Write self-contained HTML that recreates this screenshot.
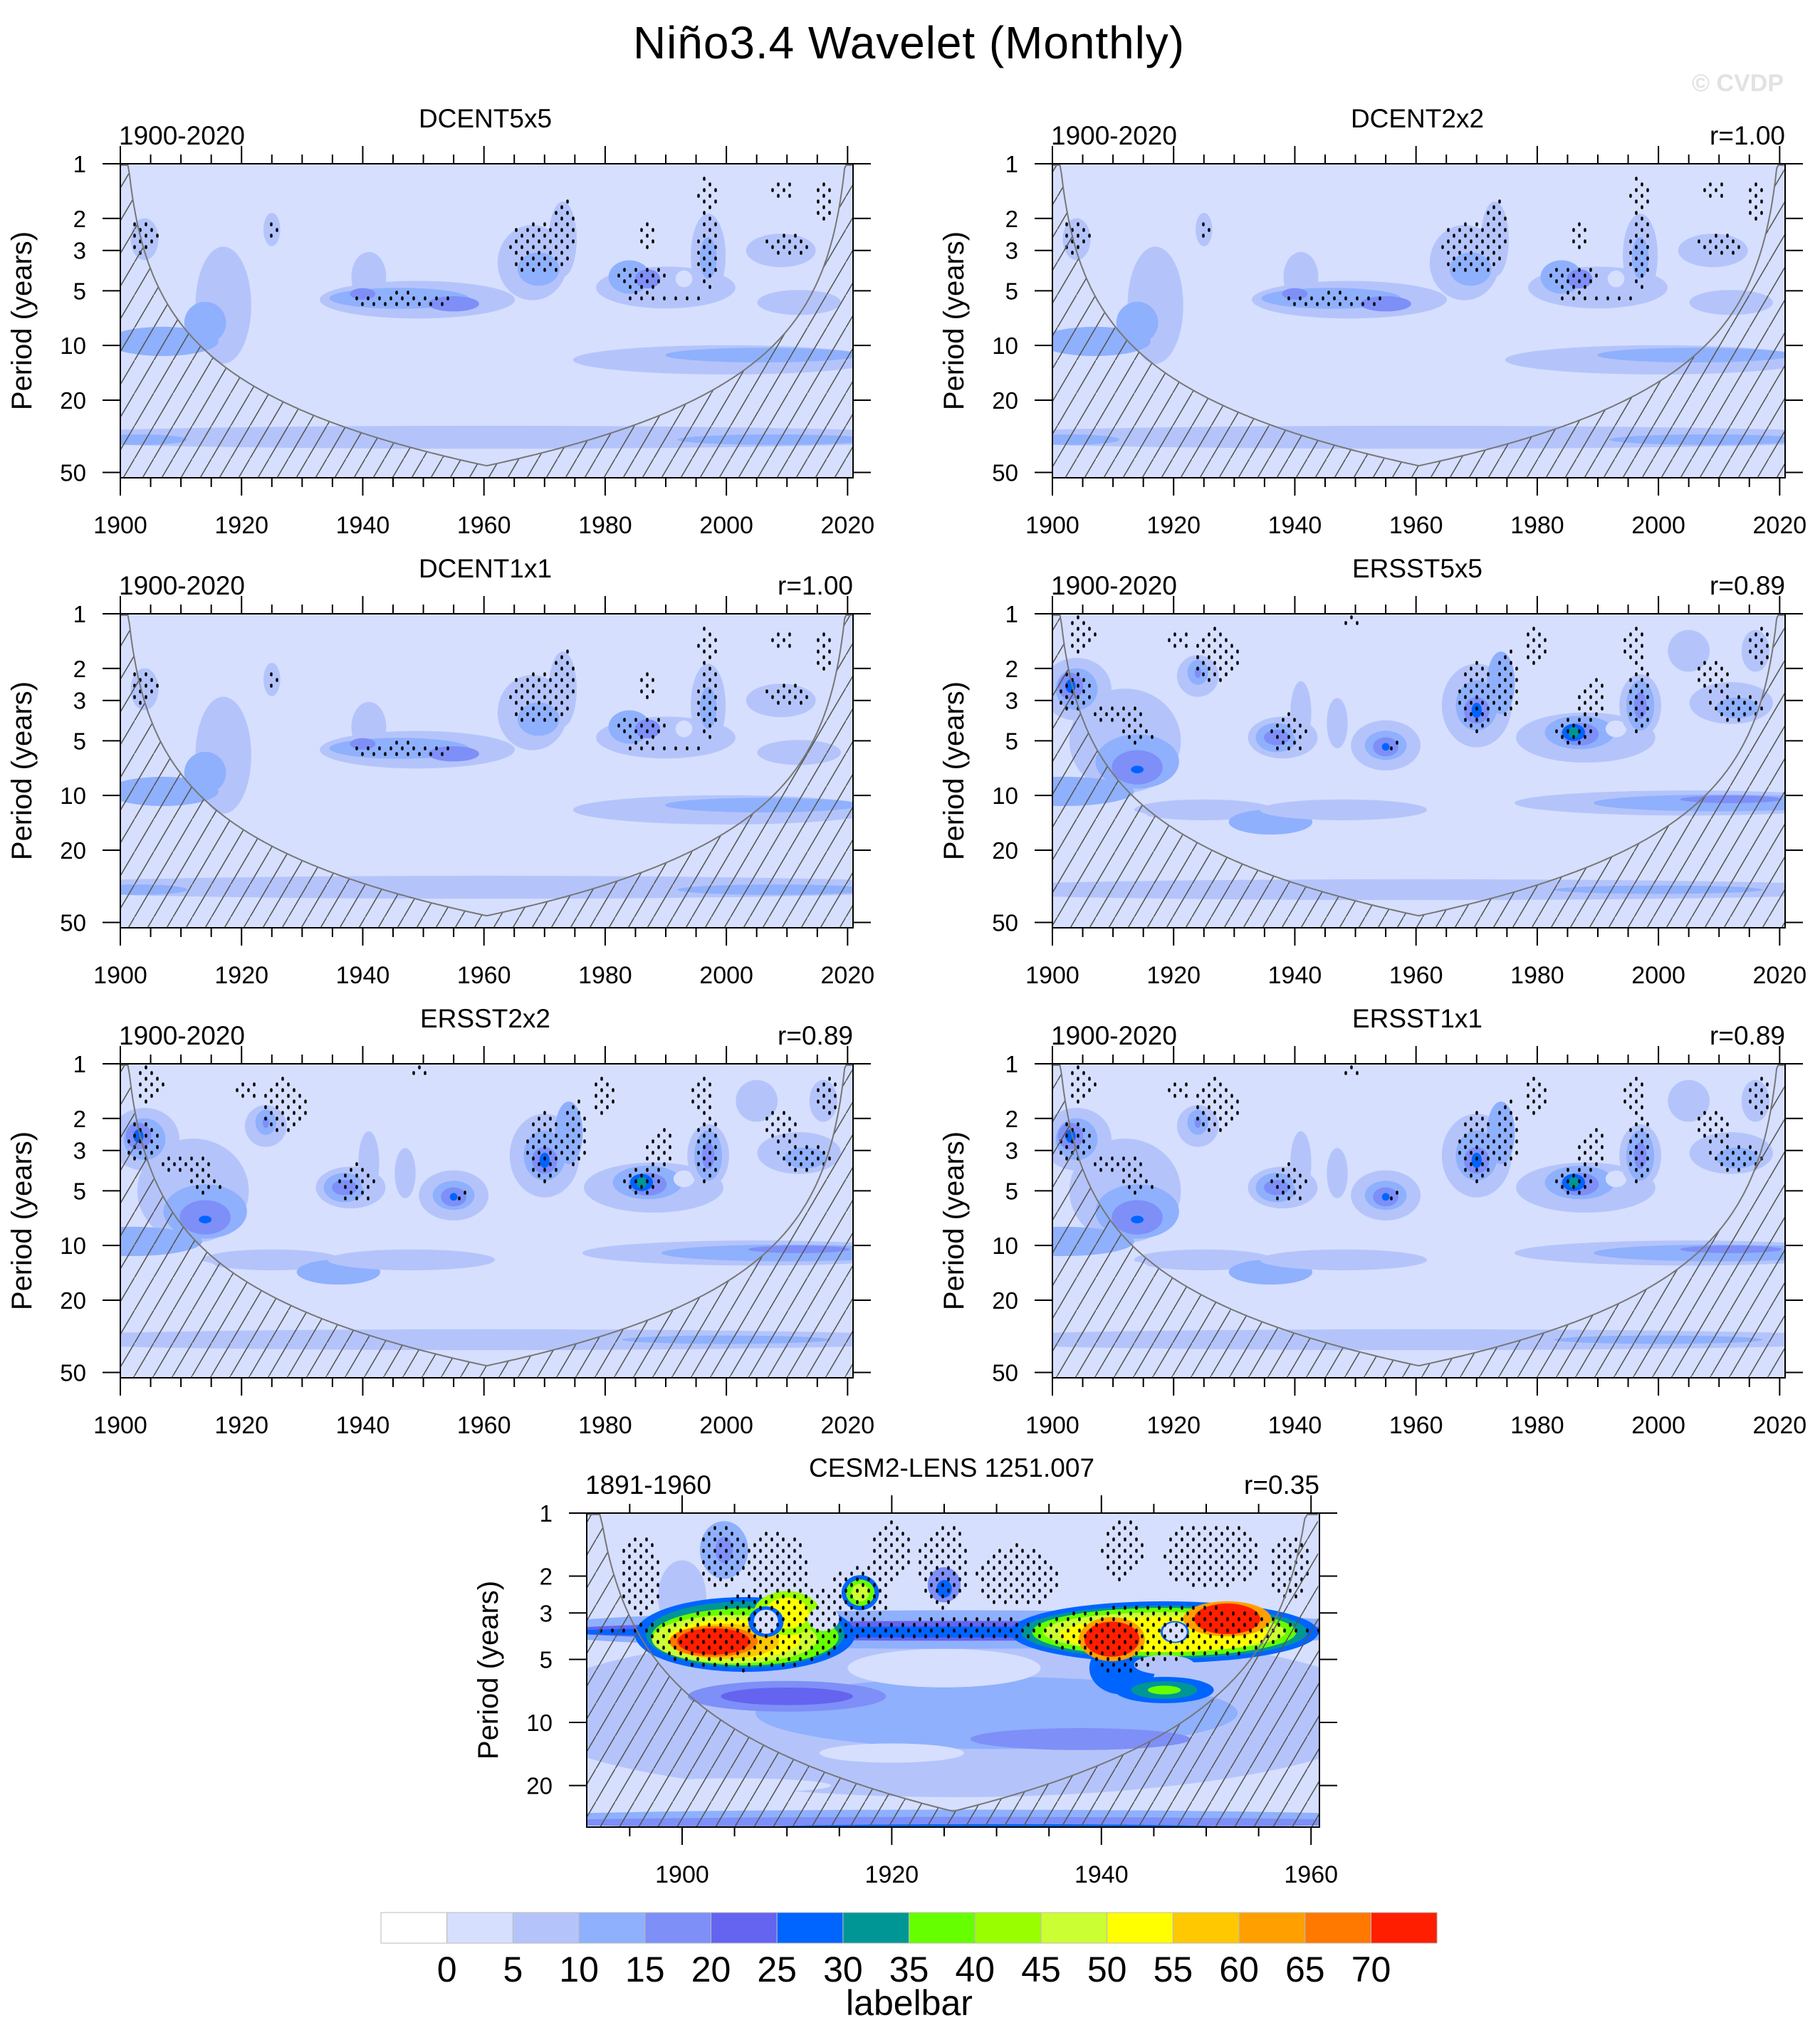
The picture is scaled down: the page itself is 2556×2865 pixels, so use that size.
<!DOCTYPE html>
<html><head><meta charset="utf-8"><style>
html,body{margin:0;padding:0;background:#fff;}
svg{display:block;font-family:"Liberation Sans",sans-serif;}
</style></head><body>
<svg id="root" width="2556" height="2865" viewBox="0 0 2556 2865" xmlns="http://www.w3.org/2000/svg">
<defs>
<pattern id="hatch" patternUnits="userSpaceOnUse" width="27" height="46">
<line x1="-27" y1="92" x2="27" y2="0" stroke="#555" stroke-width="1.4"/>
<line x1="0" y1="46" x2="27" y2="0" stroke="#555" stroke-width="1.4"/>
<line x1="27" y1="46" x2="54" y2="0" stroke="#555" stroke-width="1.4"/>
</pattern>
</defs>
<text x="1276" y="82" text-anchor="middle" font-size="64" textLength="774">Niño3.4 Wavelet (Monthly)</text>
<text x="2505" y="128" text-anchor="end" font-size="34" font-weight="bold" fill="#e2e2e2">© CVDP</text>
</svg>
<script>
const COLORS=["#ffffff","#d6dffe","#b4c4fb","#8fb0fd","#7e8ff8","#6464f0","#0064ff","#009696","#66ff00","#99ff00","#ccff33","#ffff00","#ffc800","#ffa000","#ff7800","#ff1e00"];
const CBAR_LABELS=["0","5","10","15","20","25","30","35","40","45","50","55","60","65","70"];
const PERIOD_TICKS=[1,2,3,5,10,20,50];
// blobs: [year, period, halfYears, halfDecades, level]
const DCENT_BLOBS=[
[1917,6,4,0.28,2],[1907,9.5,8,0.07,3],[1914,7.5,3,0.1,3],
[1904,2.6,2,0.1,2],[1925,2.3,1.2,0.08,2],
[1949,5.6,14,0.09,2],[1941,4.2,2.5,0.12,2],[1946,5.5,10,0.05,3],[1955,5.9,4,0.04,4],[1940,5.2,2,0.03,4],
[1968,3.5,5,0.18,2],[1973,2.6,2,0.18,2],[1969,3.8,3,0.08,3],
[1990,4.8,10,0.1,2],[1984,4.2,3,0.08,3],[1987,4.3,2,0.05,4],[1997,3.2,2.5,0.2,2],[1997,3.3,1.2,0.1,3],[1993,4.3,1.2,0.04,1],
[2009,3,5,0.08,2],[2012,5.8,6,0.06,2],
[2000,12,22,0.07,2],[2006,11.3,14,0.035,3],
[1960,32,70,0.055,2],[1903,33,7,0.025,3],[2008,33,14,0.025,3]];
const DCENT_STIP=[[1904,2.5,2.5,0.1],[1925,2.2,1,0.06],[1947,5.6,9,0.04],[1969,2.9,5,0.15],[1973,2.4,2,0.2],[1986,4.3,4,0.08],[1997,3,1.8,0.22],[1997,1.5,2,0.1],[1987,2.5,1.5,0.08],[2010,2.8,4,0.06],[2009,1.4,2,0.06],[2016,1.6,1.5,0.12],[1990,5.5,6,0.012]];
const ERSST_BLOBS=[
[1912,5,8,0.25,2],[1902,9.5,10,0.07,3],[1914,6.5,6,0.13,3],[1914,7,4,0.09,4],[1914,7.2,1,0.02,6],
[1904,2.6,5,0.15,2],[1904,2.6,3,0.1,3],[1903,2.5,2,0.07,4],[1903,2.5,0.8,0.035,6],
[1924,2.2,3,0.1,2],[1924,2.1,1.5,0.06,3],[1924,2.1,0.5,0.03,4],
[1938,4.8,5,0.1,2],[1937,4.8,3,0.07,3],[1937,4.8,2,0.04,4],[1941,3.5,1.5,0.15,2],
[1955,5.3,5,0.12,2],[1955,5.3,3,0.07,3],[1955,5.4,2,0.05,4],[1955,5.4,0.6,0.02,6],[1947,4,1.5,0.12,2],
[1970,3.2,5,0.2,2],[1970,3.2,3,0.12,3],[1970,3.4,2,0.07,4],[1970,3.4,0.8,0.04,6],[1974,2.4,2,0.15,3],
[1988,4.8,10,0.12,2],[1987,4.5,5,0.08,3],[1987,4.6,3,0.06,4],[1986,4.5,1.8,0.045,6],[1986,4.5,0.8,0.03,7],[1993,4.3,1.5,0.04,1],
[1997,3.2,3,0.15,2],[1997,3.2,2,0.12,3],[1997,3.2,1,0.07,4],
[2012,3.1,6,0.1,2],[2013,3.3,3,0.05,3],[2005,1.6,3,0.1,2],[2016,1.6,2,0.1,2],
[1925,12,10,0.05,2],[1936,14,6,0.06,3],[1948,12,12,0.05,2],
[2005,11,25,0.06,2],[2010,11,18,0.04,3],[2012,10.5,8,0.02,4],
[1960,33,70,0.05,2],[2000,33,15,0.02,3],[1910,13,5,0.03,1]];
const ERSST_STIP=[[1904,2.7,3,0.12],[1911,3.6,5,0.05],[1914,4.5,3,0.06],[1905,1.3,2.5,0.1],[1927,1.7,4,0.15],[1921,1.4,2,0.06],[1939,4.5,3,0.12],[1956,5.3,1,0.03],[1970,2.9,3,0.2],[1975,2.4,2,0.2],[1986,4.4,3,0.08],[1989,3,2.5,0.12],[1997,3,2,0.2],[1996,1.5,2,0.1],[2013,3.3,5,0.07],[2009,2.2,3,0.1],[2017,1.5,2,0.1],[1980,1.5,2,0.1],[1949,1.1,2,0.03]];
const CESM_BLOBS=[
[1926,9,36,0.35,2],[1930,9,20,0.15,3],[1910,7.5,9,0.07,4],[1910,7.5,6,0.04,5],[1938,12,10,0.05,4],
[1926,29,40,0.04,3],[1926,30,40,0.025,4],[1930,31.5,20,0.012,6],[1925,5.5,8,0.08,1],[1920,14,6,0.04,1],[1905,20,8,0.03,1],
[1904,1.5,2,0.12,3],[1904,1.5,0.8,0.06,4],[1925,2.2,1.5,0.08,4],[1925,2.3,0.7,0.04,6],[1900,2.5,2,0.15,2],
[1926,3.6,36,0.08,3],[1926,3.65,36,0.045,5],[1926,3.7,36,0.025,6],
[1906,3.8,10,0.17,6],[1906,3.8,9,0.15,7],[1906,3.9,8.5,0.13,8],[1905,4,7.5,0.11,10],[1905,4,6,0.09,11],[1904,4.1,5,0.08,12],[1903,4.1,4,0.07,14],[1903,4.1,3.3,0.06,15],
[1910,3,3,0.1,9],[1910,3,2,0.07,11],[1908,3.3,1.6,0.07,6],[1908,3.3,1,0.05,1],[1913.5,3.2,1.3,0.05,1],
[1917,2.4,1.7,0.08,6],[1917,2.4,1.3,0.06,8],[1917,2.4,0.8,0.04,10],
[1942,5.5,3,0.12,6],[1946,7,4.5,0.06,6],[1946,7,3,0.04,7],[1946,7,1.5,0.02,8],
[1946,3.7,14,0.14,6],[1946,3.7,13,0.12,7],[1946,3.7,12,0.11,8],[1946,3.7,11,0.09,10],[1946,3.8,9.5,0.08,11],
[1941,4,3,0.1,13],[1941,4,2.5,0.08,15],[1952,3.2,4,0.08,13],[1952,3.2,3,0.07,15],
[1947,3.7,1.3,0.05,6],[1947,3.7,1,0.04,1],[1946,5.3,2.5,0.04,2]];
const CESM_STIP=[[1927,3.6,35,0.05],[1906,4,9,0.15],[1910,3,6,0.15],[1917,2.5,3,0.15],[1946,3.7,12,0.13],[1904,1.6,2.5,0.15],[1909,1.8,3,0.17],[1896,2,2,0.2],[1920,1.5,2,0.15],[1925,1.8,2.5,0.2],[1932,2,4,0.15],[1942,1.5,2,0.15],[1949,1.6,3,0.15],[1952,1.6,3,0.15],[1958,1.8,2,0.15],[1942,4.8,3,0.08]];

const NS="http://www.w3.org/2000/svg";
const root=document.getElementById('root');
function mk(tag,attrs,parent){const e=document.createElementNS(NS,tag);for(const k in attrs)e.setAttribute(k,attrs[k]);(parent||root).appendChild(e);return e;}

const YRS=[1900,1920,1940,1960,1980,2000,2020];
const panels=[
{name:"dcent5x5",title:"DCENT5x5",range:"1900-2020",r:"",x0:169,y0:230,t0:1900,t1:2020.9,pmax:53.5,xt:YRS,yt:PERIOD_TICKS,blobs:DCENT_BLOBS,stip:DCENT_STIP},
{name:"dcent2x2",title:"DCENT2x2",range:"1900-2020",r:"r=1.00",x0:1478,y0:230,t0:1900,t1:2020.9,pmax:53.5,xt:YRS,yt:PERIOD_TICKS,blobs:DCENT_BLOBS,stip:DCENT_STIP},
{name:"dcent1x1",title:"DCENT1x1",range:"1900-2020",r:"r=1.00",x0:169,y0:862,t0:1900,t1:2020.9,pmax:53.5,xt:YRS,yt:PERIOD_TICKS,blobs:DCENT_BLOBS,stip:DCENT_STIP},
{name:"ersst5x5",title:"ERSST5x5",range:"1900-2020",r:"r=0.89",x0:1478,y0:862,t0:1900,t1:2020.9,pmax:53.5,xt:YRS,yt:PERIOD_TICKS,blobs:ERSST_BLOBS,stip:ERSST_STIP},
{name:"ersst2x2",title:"ERSST2x2",range:"1900-2020",r:"r=0.89",x0:169,y0:1494,t0:1900,t1:2020.9,pmax:53.5,xt:YRS,yt:PERIOD_TICKS,blobs:ERSST_BLOBS,stip:ERSST_STIP},
{name:"ersst1x1",title:"ERSST1x1",range:"1900-2020",r:"r=0.89",x0:1478,y0:1494,t0:1900,t1:2020.9,pmax:53.5,xt:YRS,yt:PERIOD_TICKS,blobs:ERSST_BLOBS,stip:ERSST_STIP},
{name:"cesm2-lens",title:"CESM2-LENS 1251.007",range:"1891-1960",r:"r=0.35",x0:824,y0:2125,t0:1890.9,t1:1960.8,pmax:31.6,xt:[1900,1920,1940,1960],yt:[1,2,3,5,10,20],blobs:CESM_BLOBS,stip:CESM_STIP}];
const W=1029,H=441;

panels.forEach((P,pi)=>{
  const g=mk('g',{});
  
  
  const lmax=Math.log10(P.pmax);
  const X=t=>P.x0+(t-P.t0)/(P.t1-P.t0)*W;
  const Y=p=>P.y0+Math.log10(p)/lmax*H;
  const cid='clip'+pi;
  const cp=mk('clipPath',{id:cid},g);mk('rect',{x:P.x0,y:P.y0,width:W,height:H},cp);
  const pg=mk('g',{'clip-path':'url(#'+cid+')'},g);
  const bg=mk('rect',{x:P.x0,y:P.y0,width:W,height:H,fill:COLORS[1]},pg);
  
  
  P.blobs.forEach(b=>{
    const cx=X(b[0]),cy=P.y0+Math.log10(b[1])/lmax*H;
    const f=b[4]<=3?1.15:1.05;
    const rx=b[2]/(P.t1-P.t0)*W*f, ry=b[3]/lmax*H*f;
    const e=mk('ellipse',{cx:cx,cy:cy,rx:rx,ry:ry,fill:COLORS[b[4]]},pg);
    
    
  });
  // stipple (staggered grid)
  let d='';let row=0;
  for(let py=P.y0+5;py<P.y0+H;py+=8,row++){
    for(let px=P.x0+4+(row%2)*8;px<P.x0+W;px+=16){
      const t=P.t0+(px-P.x0)/W*(P.t1-P.t0);
      const lp=(py-P.y0)/H*lmax;
      for(const s of P.stip){
        const dx=(t-s[0])/s[2],dy=(lp-Math.log10(s[1]))/s[3];
        if(dx*dx+dy*dy<=1){d+='M'+px+' '+(py-1)+'v2';break;}
      }
    }
  }
  const st=mk('path',{d:d,stroke:'#000','stroke-width':3.5,'stroke-linecap':'round',fill:'none'},pg);
  
  
  // COI
  const c=0.76;const pts=[];
  for(let t=P.t0;t<=P.t1+0.001;t+=0.25){
    const dt=Math.min(t-P.t0,P.t1-t);let p=c*dt;
    let y=p<=1?P.y0+2:Y(p);y=Math.min(y,P.y0+H);pts.push([X(t),y]);
  }
  const curve=pts.map((q,i)=>(i?'L':'M')+q[0].toFixed(1)+' '+q[1].toFixed(1)).join('');
  const hz=mk('path',{d:curve+'L'+(P.x0+W)+' '+(P.y0+H)+'L'+P.x0+' '+(P.y0+H)+'Z',fill:'url(#hatch)'},pg);
  
  
  const cl=mk('path',{d:curve,fill:'none',stroke:'#777','stroke-width':2},pg);
  
  
  const fr=mk('rect',{x:P.x0,y:P.y0,width:W,height:H,fill:'none',stroke:'#000','stroke-width':2},g);
  
  
  let td='';
  for(let t=Math.ceil(P.t0/5)*5;t<=P.t1;t+=5){
    const x=X(t),maj=(t%20===0);const L=maj?25:13;
    td+='M'+x+' '+P.y0+'v'+(-L)+'M'+x+' '+(P.y0+H)+'v'+L;
  }
  P.yt.forEach(p=>{const y=Y(p);td+='M'+P.x0+' '+y+'h-25M'+(P.x0+W)+' '+y+'h25';});
  const tk=mk('path',{d:td,stroke:'#000','stroke-width':2,fill:'none'},g);
  
  
  P.xt.forEach(t=>{const e=mk('text',{x:X(t),y:P.y0+H+78,'text-anchor':'middle','font-size':34},g);e.textContent=t;
    
    });
  P.yt.forEach(p=>{const e=mk('text',{x:P.x0-48,y:Y(p)+12,'text-anchor':'end','font-size':33},g);e.textContent=p;
    
    });
  const yl=mk('text',{x:0,y:0,transform:'translate('+(P.x0-125)+','+(P.y0+H/2)+') rotate(-90)','text-anchor':'middle','font-size':40},g);
  yl.textContent='Period (years)';
  
  
  const ti=mk('text',{x:P.x0+W/2-2,y:P.y0-51,'text-anchor':'middle','font-size':37},g);ti.textContent=P.title;
  
  
  const rg=mk('text',{x:P.x0-2,y:P.y0-27,'font-size':37},g);rg.textContent=P.range;
  
  
  if(P.r){const rr=mk('text',{x:P.x0+W,y:P.y0-27,'text-anchor':'end','font-size':37},g);rr.textContent=P.r;
    
    }
});

const cb=mk('g',{});


const bx0=535,bw=92.7;
COLORS.forEach((col,i)=>{const r=mk('rect',{x:bx0+i*bw,y:2686,width:bw,height:43,fill:col,stroke:'#bbb','stroke-width':1},cb);
  
  });
CBAR_LABELS.forEach((l,i)=>{const e=mk('text',{x:bx0+(i+1)*bw,y:2783,'text-anchor':'middle','font-size':50},cb);e.textContent=l;
  
  });
const lb=mk('text',{x:1277,y:2830,'text-anchor':'middle','font-size':50},cb);lb.textContent='labelbar';


</script>
</body></html>
